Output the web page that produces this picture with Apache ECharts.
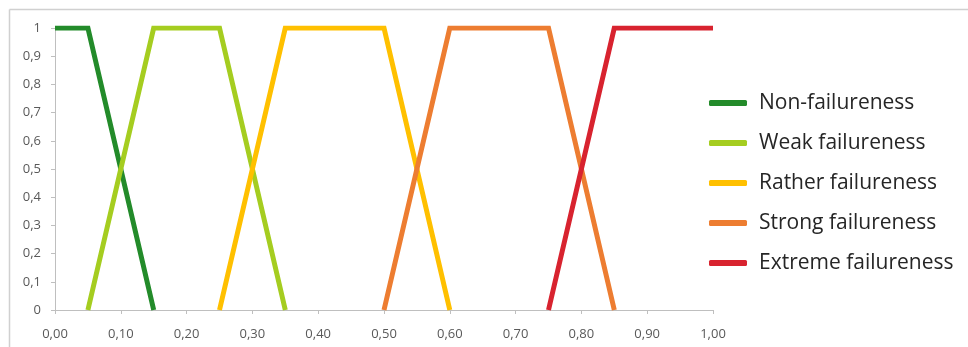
<!DOCTYPE html>
<html><head><meta charset="utf-8">
<script src="https://cdn.jsdelivr.net/npm/echarts@6/dist/echarts.min.js"></script>
<style>html,body{margin:0;padding:0;background:#fff}#c{width:968px;height:347px}</style>
</head><body><div id="c"></div>
<script>
var seriesNames = ['Non-failureness','Weak failureness','Rather failureness','Strong failureness','Extreme failureness'];
var seriesColors = ['#238b2a','#a5cd20','#ffc000','#ed7d31','#d8232f'];
var nonFailureness = [[0,1],[0.05,1],[0.15,0]];
var weakFailureness = [[0.05,0],[0.15,1],[0.25,1],[0.35,0]];
var ratherFailureness = [[0.25,0],[0.35,1],[0.5,1],[0.6,0]];
var strongFailureness = [[0.5,0],[0.6,1],[0.75,1],[0.85,0]];
var extremeFailureness = [[0.75,0],[0.85,1],[1,1]];
var allData = [nonFailureness, weakFailureness, ratherFailureness, strongFailureness, extremeFailureness];

var chart = echarts.init(document.getElementById('c'), null, {renderer:'canvas'});
var axisFont = {fontFamily:'Open Sans', fontSize:13, color:'#595959'};
chart.setOption({
  animation:false,
  backgroundColor:'#fff',
  grid:{left:55, right:255, top:28, bottom:37, containLabel:false},
  xAxis:{type:'value', min:0, max:1, interval:0.1,
    axisLine:{lineStyle:{color:'#bfbfbf', width:1}},
    axisTick:{show:true, length:4, lineStyle:{color:'#bfbfbf'}},
    splitLine:{show:false},
    axisLabel:Object.assign({margin:18, formatter:function(v){return v.toFixed(2).replace('.',',');}}, axisFont)
  },
  yAxis:{type:'value', min:0, max:1, interval:0.1,
    axisLine:{show:true, lineStyle:{color:'#bfbfbf', width:1}},
    axisTick:{show:true, length:4, lineStyle:{color:'#bfbfbf'}},
    splitLine:{show:false},
    axisLabel:Object.assign({margin:14, formatter:function(v){var s=(Math.round(v*10)/10).toString();return s.replace('.',',');}}, axisFont)
  },
  legend:{orient:'vertical', left:704, top:84, itemWidth:38, itemHeight:6, itemGap:12, icon:'roundRect',
    textStyle:{fontFamily:'Open Sans', fontSize:21, lineHeight:28, color:'#262626', padding:[0,0,0,7]},
    data:seriesNames
  },
  graphic:[
    {type:'line', shape:{x1:9.5,y1:9.5,x2:968,y2:9.5}, style:{stroke:'#d0d0d0', lineWidth:1.5}},
    {type:'line', shape:{x1:9.5,y1:9.5,x2:9.5,y2:347}, style:{stroke:'#d0d0d0', lineWidth:1.5}}
  ],
  series: seriesNames.map(function(n,i){return {
    name:n, type:'line', data:allData[i], showSymbol:false, symbol:'none',
    color:seriesColors[i],
    lineStyle:{width:5, color:seriesColors[i], cap:'butt', join:'miter'},
    itemStyle:{color:seriesColors[i]}
  };})
});
</script></body></html>
